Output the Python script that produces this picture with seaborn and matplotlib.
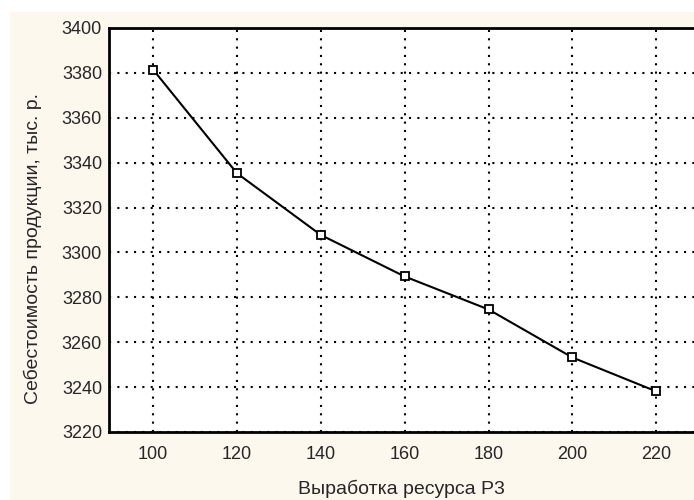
import matplotlib
matplotlib.use("Agg")
import matplotlib.pyplot as plt
import seaborn as sns
import pandas as pd
from matplotlib.patches import Rectangle

# data
resource = [100, 120, 140, 160, 180, 200, 220]
cost = [3381.5, 3335.3, 3307.8, 3289.3, 3274.6, 3253.2, 3238.1]
x_ticks = [100, 120, 140, 160, 180, 200, 220]
y_ticks = [3220, 3240, 3260, 3280, 3300, 3320, 3340, 3360, 3380, 3400]

df = pd.DataFrame({"x": resource, "y": cost})

sns.set_style("white")
plt.rcParams["font.family"] = ["Liberation Sans", "DejaVu Sans"]

fig = plt.figure(figsize=(6.94, 5.0), dpi=100, facecolor="white")
fig.patches.append(Rectangle((10 / 694, 0), 1, 1 - 12 / 500, transform=fig.transFigure,
                             facecolor="#fdf8ee", edgecolor="none", zorder=-10))
ax = fig.add_axes([109 / 694, 68 / 500, 1 - 109 / 694, 404 / 500])
ax.set_facecolor("white")

sns.lineplot(data=df, x="x", y="y", ax=ax, color="black", linewidth=1.5,
             marker="s", markersize=6, markerfacecolor="white",
             markeredgecolor="black", markeredgewidth=1.3, zorder=3)

ax.set_xlim(89.5, 229)
ax.set_ylim(3220, 3400)
ax.set_xticks(x_ticks)
ax.set_yticks(y_ticks)
ax.grid(True, color="black", linestyle=(0, (1, 3)), linewidth=1.5)
ax.tick_params(axis="x", length=0, labelsize=13, pad=10)
ax.tick_params(axis="y", length=0, labelsize=13, pad=5)

for side in ["left", "bottom", "top"]:
    ax.spines[side].set_color("black")
    ax.spines[side].set_linewidth(2)
ax.spines["right"].set_visible(False)

ax.set_xlabel("Выработка ресурса Р3", fontsize=14, labelpad=12)
ax.set_ylabel("Себестоимость продукции, тыс. р.", fontsize=14)
ax.yaxis.set_label_coords(-0.115, 0.453)

fig.savefig("out.png", dpi=100, facecolor=fig.get_facecolor())
